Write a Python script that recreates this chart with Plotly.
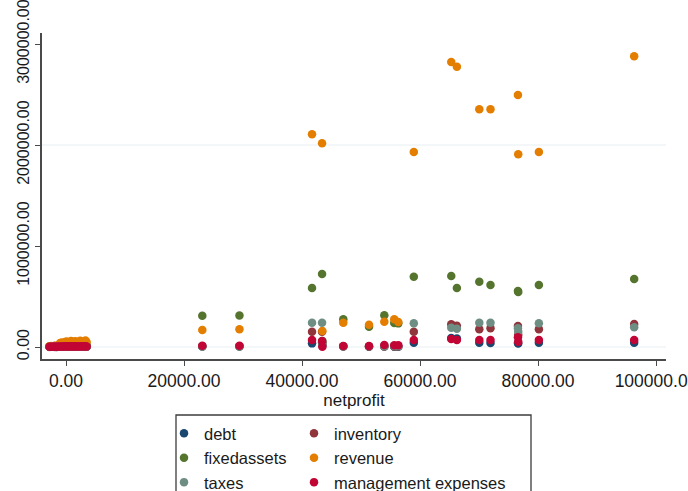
import plotly.graph_objects as go

# Firm-level observations: net profit on x, six balance/flow items on y
netprofit = [
    -2800, -2500, -2200, -1900, -1600, -1300, -1000, -700, -400, -150,
    100, 350, 600, 850, 1100, 1350, 1600, 1850, 2100, 2400, 2700, 3000, 3300, 3500,
    23100, 29400,
    41700, 43400, 43450, 47000, 51360, 53950, 55640, 56320, 58950,
    65300, 66250, 70050, 71950, 76600, 76650, 80150, 96300,
]
debt = [
    2000, 1500, 3000, 2500, 1000, 2000, 3000, 2500, 1500, 4000,
    2000, 3000, 2500, 1500, 3500, 2000, 3000, 2500, 4000, 2000, 3000, 2500, 3500, 2000,
    5000, 5000,
    36000, 45000, 15000, 5000, 3000, 4000, 3000, 3000, 43000,
    90000, 85000, 43000, 40000, 40000, 35000, 43000, 43000,
]
inventory = [
    3000, 4000, 2000, 5000, 3000, 4000, 6000, 5000, 4000, 7000,
    5000, 6000, 4000, 8000, 5000, 6000, 7000, 5000, 6000, 8000, 5000, 7000, 6000, 5000,
    8000, 8000,
    152000, 150000, 40000, 8000, 5000, 6000, 5000, 5000, 152000,
    225000, 210000, 175000, 185000, 208000, 120000, 175000, 228000,
]
fixedassets = [
    6000, 8000, 5000, 9000, 7000, 10000, 12000, 15000, 11000, 14000,
    18000, 12000, 16000, 20000, 14000, 17000, 19000, 13000, 18000, 16000, 21000, 15000, 19000, 17000,
    310000, 312000,
    584000, 723000, 60000, 274000, 200000, 314000, 238000, 234000, 696000,
    703000, 584000, 647000, 614000, 554000, 545000, 614000, 673000,
]
revenue = [
    8000, 10000, 6000, 12000, 9000, 14000, 40000, 45000, 38000, 50000,
    55000, 42000, 48000, 60000, 46000, 52000, 58000, 44000, 50000, 62000, 47000, 55000, 65000, 50000,
    168000, 175000,
    2106000, 2017000, 158000, 241000, 221000, 251000, 274000, 248000, 1931000,
    2822000, 2775000, 2353000, 2353000, 2495000, 1908000, 1931000, 2878000,
]
taxes = [
    1000, 2000, 1500, 1000, 2500, 1500, 3000, 2000, 2500, 3000,
    2000, 3500, 2500, 3000, 2000, 4000, 3000, 2500, 3500, 3000, 2000, 4000, 3000, 2500,
    6000, 6000,
    241000, 241000, 20000, 8000, 8000, 8000, 8000, 8000, 235000,
    191000, 180000, 241000, 241000, 185000, 152000, 235000, 195000,
]
mgmt_expenses = [
    2000, 3000, 2500, 4000, 3000, 5000, 4000, 6000, 5000, 7000,
    6000, 4000, 8000, 5000, 7000, 6000, 8000, 5000, 7000, 6000, 8000, 5000, 7000, 6000,
    13000, 13000,
    69000, 60000, 2000, 10000, 10000, 20000, 17000, 17000, 69000,
    79000, 69000, 69000, 69000, 96000, 53000, 69000, 69000,
]

x_ticks = [0, 20000, 40000, 60000, 80000, 100000]
y_ticks = [0, 1000000, 2000000, 3000000]

# Stata s2color palette, in plotting order
series = [
    ("debt", debt, "#1a476f"),
    ("inventory", inventory, "#90353b"),
    ("fixedassets", fixedassets, "#55752f"),
    ("revenue", revenue, "#e37e00"),
    ("taxes", taxes, "#6e8e84"),
    ("management expenses", mgmt_expenses, "#c10534"),
]
# left legend column holds 1st, 3rd, 5th series; right column the others
legend_of = {0: "legend", 2: "legend", 4: "legend", 1: "legend2", 3: "legend2", 5: "legend2"}

FONT = "Liberation Sans, Arial, sans-serif"

fig = go.Figure()
for i, (name, vals, col) in enumerate(series):
    fig.add_trace(go.Scatter(
        x=netprofit, y=vals, name=name, mode="markers",
        marker=dict(color=col, size=8.5, line=dict(width=0)),
        legend=legend_of[i],
    ))

# faint horizontal grid lines
for gy in [0, 2000000]:
    fig.add_hline(y=gy, line=dict(color="#e9eff2", width=1), layer="below")

W, H = 688, 491
L, R, T, B = 42, 22, 33, 132
pw, ph = W - L - R, H - T - B


def px_x(p):
    return (p - L) / pw


def px_y(p):
    return (H - B - p) / ph


# legend frame
fig.add_shape(type="rect", xref="paper", yref="paper",
              x0=px_x(176), x1=px_x(531), y0=px_y(505), y1=px_y(415),
              line=dict(color="#3c3c3c", width=1.3), fillcolor="rgba(0,0,0,0)")

legend_common = dict(
    orientation="v", xanchor="left", yanchor="top",
    font=dict(family=FONT, size=16.5, color="#1a1a1a"),
    bgcolor="rgba(0,0,0,0)", borderwidth=0, itemwidth=30,
    tracegroupgap=0,
)

fig.update_layout(
    width=W, height=H,
    margin=dict(l=L, r=R, t=T, b=B, autoexpand=False),
    paper_bgcolor="white", plot_bgcolor="white",
    font=dict(family=FONT, color="#1a1a1a"),
    showlegend=True,
    legend=dict(x=px_x(164), y=px_y(416), **legend_common),
    legend2=dict(x=px_x(294), y=px_y(416), **legend_common),
    xaxis=dict(
        range=[-4068, 101695], tickvals=x_ticks, tickformat=".2f",
        showgrid=False, zeroline=False,
        showline=True, linecolor="#4a4a4a", linewidth=1.5,
        ticks="outside", ticklen=5, tickcolor="#4a4a4a", tickwidth=1.2,
        tickfont=dict(family=FONT, size=17.5, color="#1a1a1a"),
        ticklabeloverflow="allow",
        title=dict(text="netprofit", font=dict(family=FONT, size=17, color="#1a1a1a"), standoff=0),
        automargin=False,
    ),
    yaxis=dict(
        range=[-118800, 3109000], tickvals=y_ticks, tickformat=".2f",
        showgrid=False, zeroline=False,
        showline=True, linecolor="#4a4a4a", linewidth=1.5,
        ticks="outside", ticklen=5, tickcolor="#4a4a4a", tickwidth=1.2,
        tickangle=-90,
        tickfont=dict(family=FONT, size=16, color="#1a1a1a"),
        ticklabeloverflow="allow",
        automargin=False,
    ),
)

fig.write_html("out.html")
